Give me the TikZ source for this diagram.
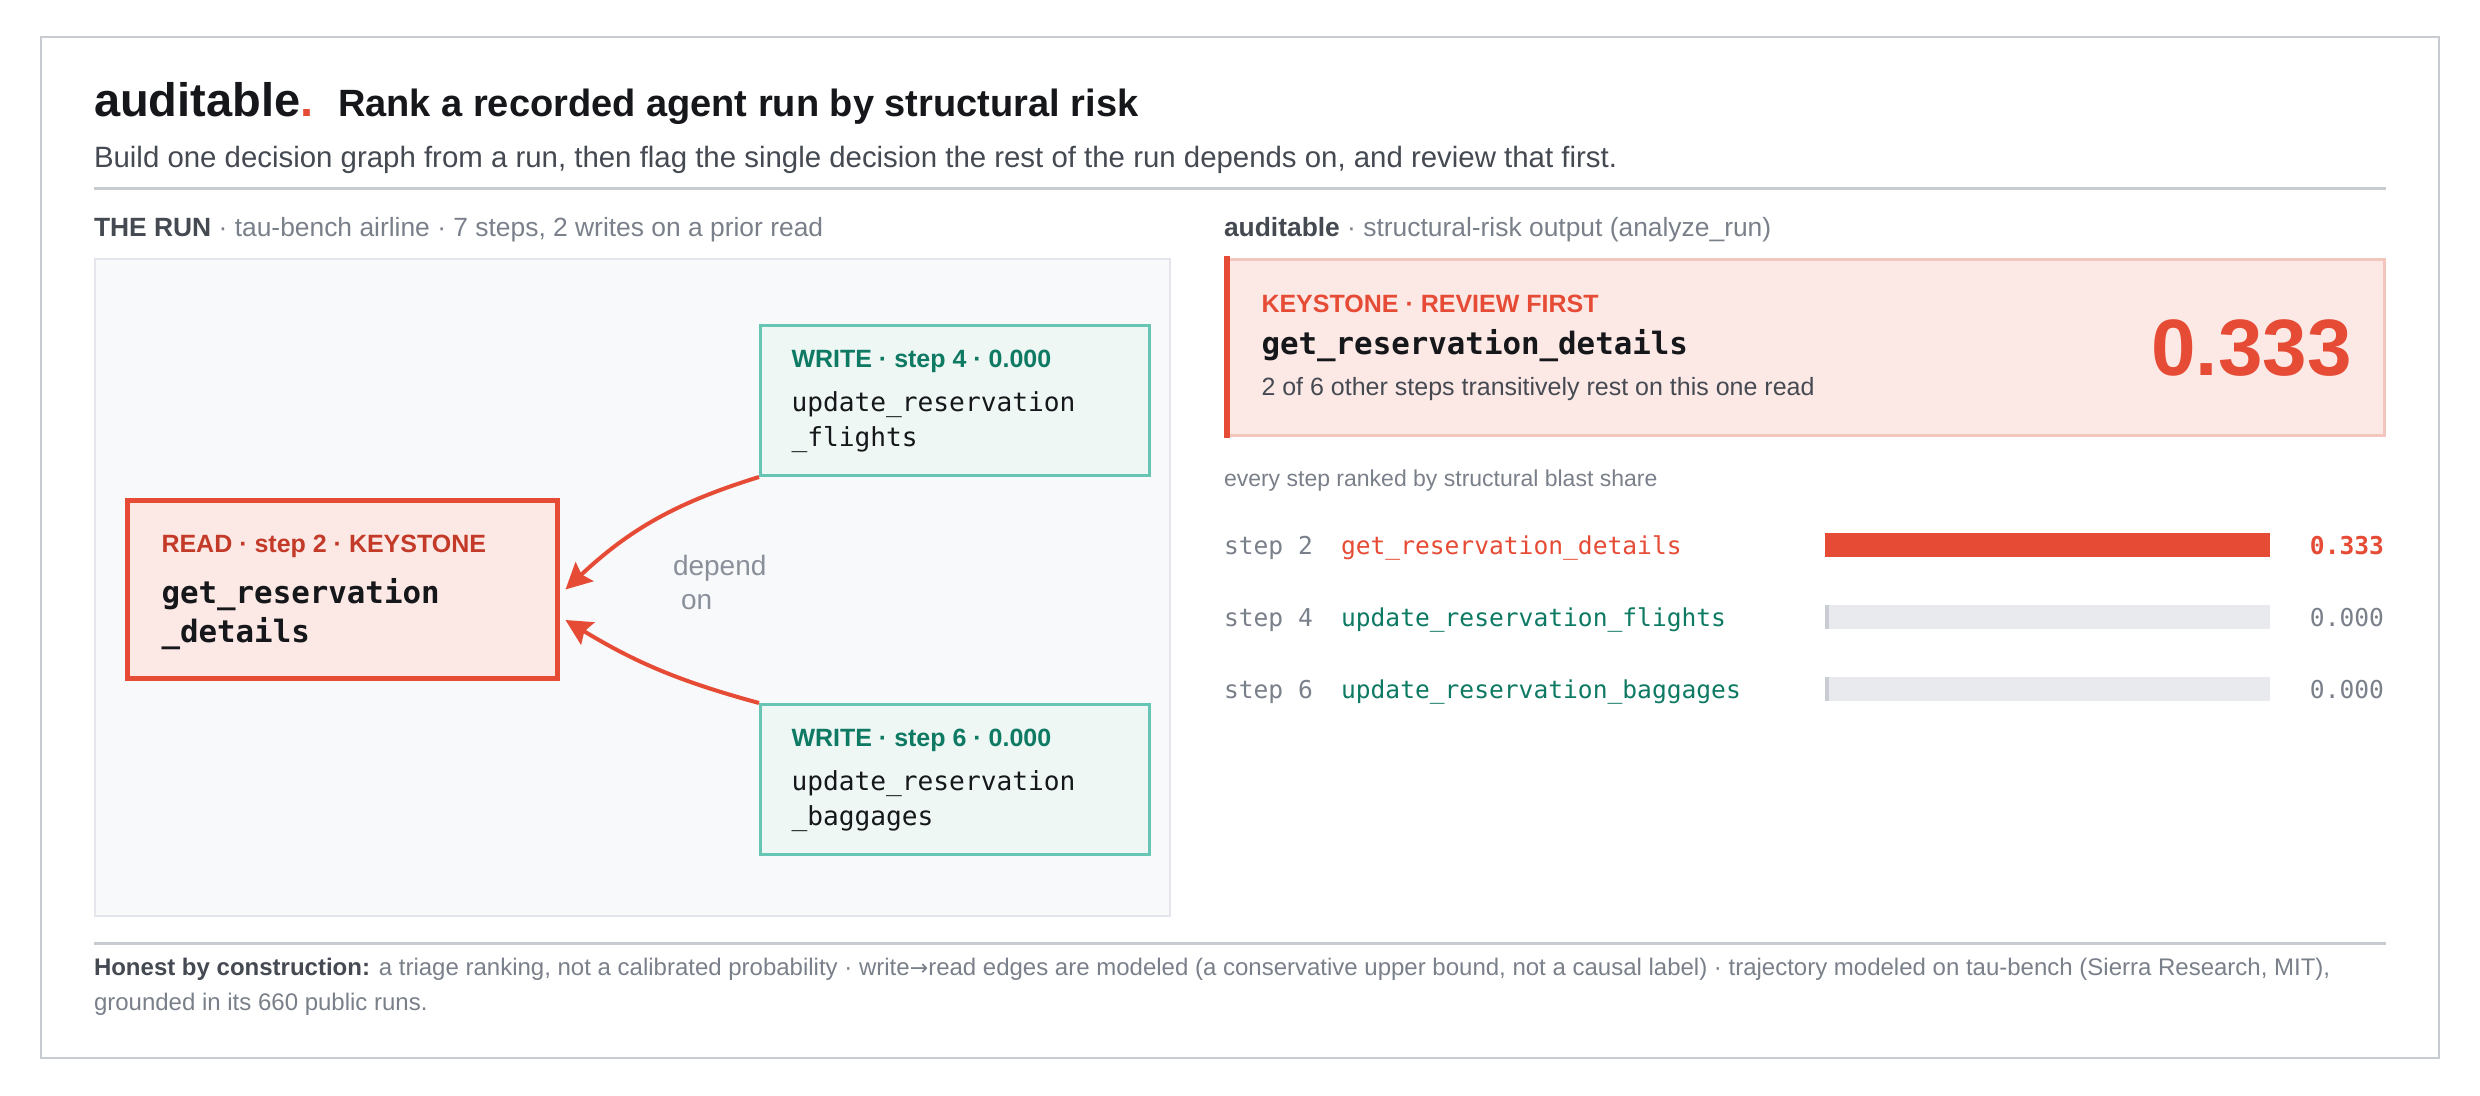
\documentclass[tikz,border=0pt]{standalone}
\usepackage{fontspec}
\setmainfont{Liberation Sans}
\setmonofont{DejaVu Sans Mono}
\newfontfamily\arrowfont{DejaVu Sans}
\usetikzlibrary{arrows.meta}
\usetikzlibrary{positioning}

\definecolor{kred}{HTML}{E64B35}
\definecolor{kdred}{HTML}{C43A28}
\definecolor{kpink}{HTML}{FCE9E6}
\definecolor{kpinkline}{HTML}{F2C6BC}
\definecolor{tealline}{HTML}{66C5B3}
\definecolor{tealfill}{HTML}{EEF7F3}
\definecolor{tealtext}{HTML}{0E7A64}
\definecolor{inkdark}{HTML}{15171A}
\definecolor{inkmid}{HTML}{454A52}
\definecolor{inkgray}{HTML}{7A808A}
\definecolor{deptext}{HTML}{8A909A}
\definecolor{rulegray}{HTML}{C8CBD0}
\definecolor{panelfill}{HTML}{F8F9FB}
\definecolor{panelline}{HTML}{E4E6EB}
\definecolor{bargray}{HTML}{E9EAEE}
\definecolor{barmark}{HTML}{C9CCD3}

\tikzset{
  txt/.style={inner sep=0pt, outer sep=0pt, anchor=base west},
  tag/.style={txt, font=\fontsize{12.5}{15}\selectfont\bfseries},
  fn/.style={txt, font=\fontsize{13.1}{16}\selectfont\ttfamily, text=inkdark},
  fnbig/.style={txt, font=\fontsize{15.4}{18}\selectfont\ttfamily\bfseries, text=inkdark},
  rowtxt/.style={txt, font=\fontsize{12.3}{15}\selectfont\ttfamily},
  hdr/.style={txt, font=\fontsize{13.2}{16}\selectfont, text=inkgray},
  note/.style={txt, font=\fontsize{12}{15}\selectfont, text=inkgray},
  readbox/.style={draw=kred, fill=kpink, line width=2.5pt, minimum width=215pt, minimum height=89pt, inner sep=0pt},
  writebox/.style={draw=tealline, fill=tealfill, line width=1.5pt, minimum width=194.5pt, minimum height=75pt, inner sep=0pt},
  keybox/.style={draw=kpinkline, fill=kpink, line width=1.5pt, minimum width=579pt, minimum height=88pt, inner sep=0pt},
  dep/.style={draw=kred, line width=2pt, -{Stealth[length=13pt, width=13pt, inset=2pt]}},
}

\begin{document}
\begin{tikzpicture}[x=0.5pt, y=-0.5pt]
  \useasboundingbox[fill=white] (0,0) rectangle (2480,1096);
  \draw[rulegray, line width=1.25pt] (41,37) rectangle (2439,1058);

  \node[txt, font=\fontsize{23.5}{27}\selectfont\bfseries, text=inkdark] (ttl) at (94,117) {auditable\textcolor{kred}{.}};
  \node[txt, font=\fontsize{19}{23}\selectfont\bfseries, text=inkdark] (ttl2) at (338,117) {Rank a recorded agent run by structural risk};
  \node[txt, font=\fontsize{14.7}{17}\selectfont, text=inkmid] (lede) at (94,168) {Build one decision graph from a run, then flag the single decision the rest of the run depends on, and review that first.};
  \coordinate (ruleL) at (94,189);
  \coordinate (ruleR) at (2386,189);
  \draw[rulegray, line width=1.5pt] (ruleL) -- (ruleR);

  \node[hdr] (runhd) at (94,237) {\textcolor{inkmid}{\bfseries THE RUN} · tau-bench airline · 7 steps, 2 writes on a prior read};
  \node[hdr] (outhd) at (1224,237) {\textcolor{inkmid}{\bfseries auditable} · structural-risk output (analyze\_run)};

  \filldraw[fill=panelfill, draw=panelline, line width=1pt] (95,259) rectangle (1170,916);

  \node[readbox] (r2) at (342.5,589.5) {};
  \node[writebox] (w4) at (955,400.5) {};
  \node[writebox] (w6) at (955,779.5) {};

  \node[tag, text=kdred] (r2tag) at ([shift={(18.25pt,-27.25pt)}]r2.north west) {READ · step 2 · KEYSTONE};
  \node[fnbig] (r2a) at ([shift={(18.25pt,-52.75pt)}]r2.north west) {get\_reservation};
  \node[fnbig] (r2b) at ([shift={(18.25pt,-72.25pt)}]r2.north west) {\_details};

  \node[tag, text=tealtext] (w4tag) at ([shift={(16.25pt,-21.75pt)}]w4.north west) {WRITE · step 4 · 0.000};
  \node[fn] (w4a) at ([shift={(16.25pt,-43.75pt)}]w4.north west) {update\_reservation};
  \node[fn] (w4b) at ([shift={(16.25pt,-61.25pt)}]w4.north west) {\_flights};

  \node[tag, text=tealtext] (w6tag) at ([shift={(16.25pt,-21.75pt)}]w6.north west) {WRITE · step 6 · 0.000};
  \node[fn] (w6a) at ([shift={(16.25pt,-43.75pt)}]w6.north west) {update\_reservation};
  \node[fn] (w6b) at ([shift={(16.25pt,-61.25pt)}]w6.north west) {\_baggages};

  \draw[dep] (w4.south west) to[bend right=13] ([xshift=2.75pt]r2.east);
  \draw[dep] (w6.north west) to[bend left=8] ([xshift=2.75pt, yshift=-15.25pt]r2.east);
  \node[txt, font=\fontsize{14}{17}\selectfont, text=deptext] (dep1) at (673,575) {depend};
  \node[txt, font=\fontsize{14}{17}\selectfont, text=deptext] (dep2) at (681,610) {on};

  \node[keybox] (ks) at (1805.5,347.5) {};
  \fill[kred] ([shift={(-0.75pt,0.75pt)}]ks.north west) rectangle ([shift={(2.25pt,-0.75pt)}]ks.south west);
  \node[tag, text=kred] (kstag) at ([shift={(18.25pt,-27.25pt)}]ks.north west) {KEYSTONE · REVIEW FIRST};
  \node[fnbig] (ksname) at ([shift={(18.25pt,-48.25pt)}]ks.north west) {get\_reservation\_details};
  \node[txt, font=\fontsize{12.5}{15}\selectfont, text=inkmid] (ksdesc) at ([shift={(18.25pt,-68.75pt)}]ks.north west) {2 of 6 other steps transitively rest on this one read};
  \node[txt, anchor=base east, font=\fontsize{40}{44}\selectfont\bfseries, text=kred] (kscore) at ([shift={(-17.25pt,-58.75pt)}]ks.north east) {0.333};

  \node[txt, font=\fontsize{11.5}{14}\selectfont, text=inkgray] (rankhd) at (1224,487) {every step ranked by structural blast share};

  \node[rowtxt, text=inkgray] (s2) at (1224,554) {step 2};
  \node[rowtxt, text=kred] (n2) at (1341,554) {get\_reservation\_details};
  \fill[kred] (1825,533) rectangle (2270,557);
  \node[rowtxt, anchor=base east, text=kred, font=\fontsize{12.3}{15}\selectfont\ttfamily\bfseries] (v2) at (2384,554) {0.333};

  \node[rowtxt, text=inkgray] (s4) at (1224,626) {step 4};
  \node[rowtxt, text=tealtext] (n4) at (1341,626) {update\_reservation\_flights};
  \fill[bargray] (1825,605) rectangle (2270,629);
  \fill[barmark] (1825,605) rectangle (1829,629);
  \node[rowtxt, anchor=base east, text=inkgray] (v4) at (2384,626) {0.000};

  \node[rowtxt, text=inkgray] (s6) at (1224,698) {step 6};
  \node[rowtxt, text=tealtext] (n6) at (1341,698) {update\_reservation\_baggages};
  \fill[bargray] (1825,677) rectangle (2270,701);
  \fill[barmark] (1825,677) rectangle (1829,701);
  \node[rowtxt, anchor=base east, text=inkgray] (v6) at (2384,698) {0.000};

  \coordinate (foot L) at (94,943);
  \coordinate (foot R) at (2386,943);
  \draw[rulegray, line width=1.5pt] (foot L) -- (foot R);
  \node[note] (foot1) at (94,975) {\textcolor{inkmid}{\bfseries Honest by construction:} a triage ranking, not a calibrated probability · write{\arrowfont\fontsize{11}{15}\selectfont →}read edges are modeled (a conservative upper bound, not a causal label) · trajectory modeled on tau-bench (Sierra Research, MIT),};
  \node[note] (foot2) at (94,1010) {grounded in its 660 public runs.};
\end{tikzpicture}
\end{document}
